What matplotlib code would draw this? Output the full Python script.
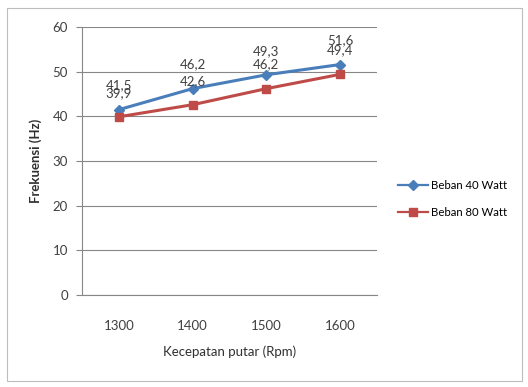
import matplotlib
matplotlib.use("Agg")
import matplotlib.pyplot as plt
from matplotlib.patches import Rectangle

# Frequency vs rotation speed for two loads
speeds = ["1300", "1400", "1500", "1600"]
beban_40 = [41.5, 46.2, 49.3, 51.6]
beban_80 = [39.9, 42.6, 46.2, 49.4]
y_ticks = [0, 10, 20, 30, 40, 50, 60]

blue = "#4A7EBB"
red = "#BE4B48"
grey = "#878787"
text_col = "#404040"

plt.rcParams["font.family"] = ["Lato", "DejaVu Sans"]
plt.rcParams["font.size"] = 9.5

fig = plt.figure(figsize=(5.28, 3.87), dpi=100)
fig.patches.append(Rectangle((7 / 528, 1 - 381 / 387), 515 / 528, 373 / 387,
                             transform=fig.transFigure, fill=False,
                             edgecolor="#BDBDBD", linewidth=0.8))

ax = fig.add_axes([82 / 528, 1 - 295 / 387, 295 / 528, 268 / 387])
x = list(range(len(speeds)))

ax.plot(x, beban_40, color=blue, linewidth=2.2, marker="D", markersize=5,
        label="Beban 40 Watt", zorder=3)
ax.plot(x, beban_80, color=red, linewidth=2.2, marker="s", markersize=6,
        label="Beban 80 Watt", zorder=3)

# value labels above each point, decimal comma
for series in (beban_40, beban_80):
    for xi, v in zip(x, series):
        ax.annotate(f"{v:.1f}".replace(".", ","), (xi, v), xytext=(0, 13),
                    textcoords="offset points", ha="center", va="bottom",
                    color=text_col)

ax.set_xlim(-0.5, len(speeds) - 0.5)
ax.set_ylim(0, 60)
ax.set_yticks(y_ticks)
ax.set_xticks(x)
ax.set_xticklabels(speeds)
ax.tick_params(axis="x", length=0, pad=18, colors=text_col)
ax.tick_params(axis="y", length=4, width=0.8, pad=6, colors=text_col)
ax.tick_params(axis="y", color=grey)
ax.yaxis.grid(True, color=grey, linewidth=0.8)
ax.set_axisbelow(True)
for side in ("top", "right"):
    ax.spines[side].set_visible(False)
for side in ("left", "bottom"):
    ax.spines[side].set_color(grey)
    ax.spines[side].set_linewidth(0.8)

ax.set_xlabel("Kecepatan putar (Rpm)", labelpad=10, color="#303030")
ax.set_ylabel("Frekuensi (Hz)", fontweight="bold", labelpad=8, color="#303030")

leg = fig.legend(loc="center left", bbox_to_anchor=(388 / 528, 1 - 199 / 387),
                 frameon=False, handlelength=2.6, handletextpad=0.3,
                 labelspacing=1.4, fontsize=8.2)
for line in leg.get_lines():
    line.set_linewidth(1.6)

fig.savefig("out.png", dpi=100)
